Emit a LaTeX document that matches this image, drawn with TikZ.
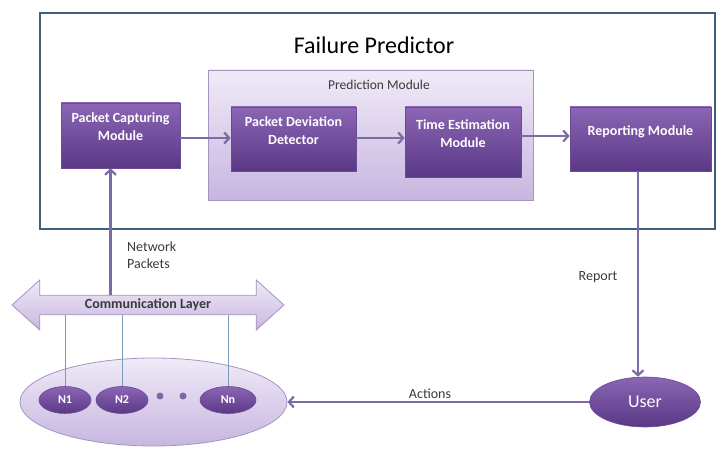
\documentclass[tikz,border=0pt]{standalone}
\usepackage{fontspec}
\setmainfont{Carlito}
\usetikzlibrary{arrows.meta,shapes.geometric,shapes.arrows,shadows}
\definecolor{modtop}{HTML}{8A66B4}
\definecolor{modbot}{HTML}{5B3886}
\definecolor{modedge}{HTML}{6A4A94}
\definecolor{framec}{HTML}{41607F}
\definecolor{arrc}{HTML}{7B6AA3}
\definecolor{lavtop}{HTML}{F0EAF7}
\definecolor{lavbot}{HTML}{C7B6E0}
\definecolor{lavedge}{HTML}{A395C0}
\definecolor{txtc}{HTML}{3A3A3A}
\definecolor{thinc}{HTML}{7E9AB8}
\begin{document}
\begin{tikzpicture}[x=1pt,y=-1pt,
  module/.style={rectangle, top color=modtop, bottom color=modbot, draw=modedge,
    line width=0.6pt, text=white, font=\fontsize{14}{18}\selectfont\bfseries,
    align=center, inner sep=2pt, text depth=17pt,
    drop shadow={opacity=0.3,shadow xshift=1.2pt,shadow yshift=-1.5pt}},
  nodeell/.style={ellipse, top color=modtop, bottom color=modbot, draw=modedge,
    line width=0.6pt, text=white, font=\fontsize{12}{14}\selectfont\bfseries, inner sep=0pt},
  flow/.style={draw=arrc, line width=2.2pt, -{Straight Barb[length=5pt,width=11pt]}},
  lbl/.style={text=txtc, font=\fontsize{14}{17}\selectfont, inner sep=0pt},
  dotc/.style={circle, fill=arrc, inner sep=0pt, minimum size=7pt},
]
\useasboundingbox (0,0) rectangle (718,449);
% outer frame
\node[draw=framec, line width=1.8pt, rectangle, minimum width=675pt, minimum height=216pt, inner sep=0pt] (frame) at (377.5,121) {};
\node[text=black, font=\fontsize{24}{28}\selectfont, inner sep=0pt] (title) at (374,45) {Failure Predictor};
% prediction module container
\node[rectangle, top color=lavtop, bottom color=lavbot, draw=lavedge, line width=0.8pt,
  minimum width=325pt, minimum height=130pt, inner sep=0pt] (pred) at (370.5,135) {};
\node[text=txtc, font=\fontsize{13.5}{16}\selectfont, inner sep=0pt] (predlbl) at (379,85) {Prediction Module};
% modules
\node[module, minimum width=119pt, minimum height=65pt] (pcm) at (120.5,135.5) {Packet Capturing\\Module};
\node[module, minimum width=125pt, minimum height=64pt] (pdd) at (293.5,139) {Packet Deviation\\Detector};
\node[module, minimum width=116pt, minimum height=70pt] (tem) at (463,142) {Time Estimation\\Module};
\node[module, minimum width=141pt, minimum height=64pt] (rm) at (640.5,139) {Reporting Module};
% flows
\draw[flow] (pcm.east |- 0,138) -- (pdd.west |- 0,138);
\draw[flow] (pdd.east |- 0,138) -- (tem.west |- 0,138);
\draw[flow] (tem.east |- 0,136) -- (rm.west |- 0,136);
% communication layer
\node[double arrow, double arrow head extend=10pt, double arrow tip angle=84,
  top color=lavtop, bottom color=lavbot, draw=lavedge, line width=0.8pt,
  minimum height=272pt, minimum width=50pt, inner sep=0pt,
  text=txtc, font=\fontsize{14}{17}\selectfont\bfseries] (comm) at (148,305) {Communication Layer};
% network ellipse
\node[ellipse, top color=lavtop, bottom color=lavbot, draw=lavedge, line width=0.8pt,
  minimum width=267pt, minimum height=88pt, inner sep=0pt] (net) at (153.5,402) {};
\node[nodeell, minimum width=52pt, minimum height=27pt] (n1) at (65,400) {N1};
\node[nodeell, minimum width=52pt, minimum height=27pt] (n2) at (122,400) {N2};
\node[nodeell, minimum width=56pt, minimum height=27pt] (nn) at (228,400) {Nn};
\node[dotc] (d1) at (160,396) {};
\node[dotc] (d2) at (183,396) {};
\draw[thinc, line width=0.8pt] (n1.north) -- (n1.north |- comm.south);
\draw[thinc, line width=0.8pt] (n2.north) -- (n2.north |- comm.south);
\draw[thinc, line width=0.8pt] (nn.north) -- (nn.north |- comm.south);
% user
\node[ellipse, top color=modtop, bottom color=modbot, draw=modedge, line width=0.6pt,
  text=white, font=\fontsize{18}{20}\selectfont, minimum width=111pt, minimum height=50pt, inner sep=0pt] (user) at (645,402) {User};
% network packets
\draw[flow] ([xshift=-10pt]pcm.south |- comm.north) -- ([xshift=-10pt]pcm.south);
\node[lbl, align=left, anchor=west] (nplbl) at (127,255) {Network\\Packets};
% report
\draw[flow] (rm.south -| 638,0) -- (user.north -| 638,0);
\node[lbl] (replbl) at (598,277) {Report};
% actions
\draw[flow] (user.west) -- (net.east);
\node[lbl] (actlbl) at (430,394) {Actions};
\end{tikzpicture}
\end{document}
